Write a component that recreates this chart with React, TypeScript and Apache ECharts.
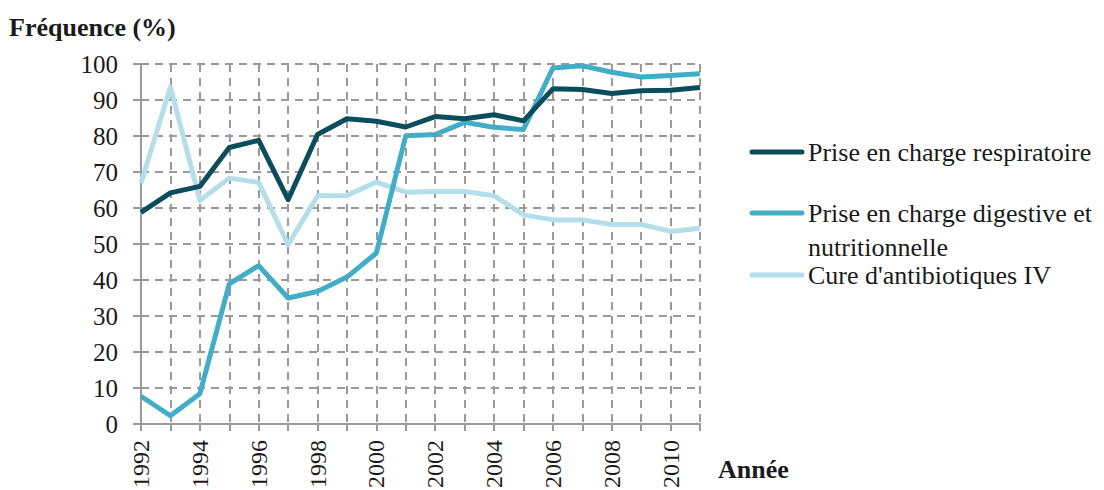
import React, { useEffect, useRef } from "react";
import * as echarts from "echarts";

const years = ["1992","1993","1994","1995","1996","1997","1998","1999","2000","2001","2002","2003","2004","2005","2006","2007","2008","2009","2010","2011"];
const respiratoire = [58.8,64.2,66,76.8,78.8,62.3,80.4,84.8,84.1,82.5,85.4,84.8,85.9,84.2,93.1,92.9,91.8,92.6,92.7,93.5];
const digestive = [7.7,2.3,8.4,38.9,44.0,35.0,36.8,40.8,47.5,80.1,80.4,83.8,82.4,81.8,98.9,99.5,97.7,96.4,96.8,97.3];
const antibiotiques = [66.9,93.6,62.1,68.3,67.1,49.8,63.4,63.5,67.2,64.4,64.6,64.6,63.4,58.1,56.7,56.7,55.4,55.4,53.5,54.4];
const seriesNames = ["Prise en charge respiratoire", "Prise en charge digestive et\nnutritionnelle", "Cure d'antibiotiques IV"];
const colors = ["#0c4d5d", "#41adc6", "#b4dfea"];

const FONT = "Liberation Serif";

export default function App() {
  const ref = useRef<HTMLDivElement>(null);
  useEffect(() => {
    document.body.style.margin = "0";
    const chart = echarts.init(ref.current!, null, { renderer: "svg" });
    const dataSets = [respiratoire, digestive, antibiotiques];
    const legendY = [152, 213, 275];
    const LH = 34;
    const legendGraphics: any[] = [];
    seriesNames.forEach((name, i) => {
      const lines = name.split("\n").length;
      legendGraphics.push({
        type: "line",
        shape: { x1: 752, y1: legendY[i], x2: 802, y2: legendY[i] },
        style: { stroke: colors[i], lineWidth: 5, lineCap: "round" },
      });
      legendGraphics.push({
        type: "text",
        x: 808,
        y: legendY[i] + ((lines - 1) * LH) / 2,
        style: {
          text: name,
          fontFamily: FONT,
          fontSize: 26,
          fill: "#1a1a1a",
          lineHeight: LH,
          verticalAlign: "middle",
          align: "left",
        },
      });
    });
    chart.setOption({
      animation: false,
      textStyle: { fontFamily: FONT },
      grid: { left: 141, right: 404, top: 64, bottom: 66, containLabel: false, outerBoundsMode: "none" },
      xAxis: {
        type: "category",
        data: years,
        boundaryGap: false,
        axisLine: { lineStyle: { color: "#9a9a9a", width: 2 } },
        axisTick: { show: true, interval: 0, length: 7, lineStyle: { color: "#9a9a9a", width: 2 } },
        axisLabel: { interval: 1, rotate: 90, fontSize: 24, color: "#1a1a1a", fontFamily: FONT, margin: 16 },
        splitLine: { show: true, interval: 0, lineStyle: { color: "#9a9a9a", width: 2, type: [8, 6] } },
      },
      yAxis: {
        type: "value",
        min: 0,
        max: 100,
        interval: 10,
        axisLine: { show: true, lineStyle: { color: "#9a9a9a", width: 2 } },
        axisTick: { show: true, length: 8, lineStyle: { color: "#9a9a9a", width: 2 } },
        axisLabel: { fontSize: 25, color: "#1a1a1a", fontFamily: FONT, margin: 23 },
        splitLine: { show: true, lineStyle: { color: "#9a9a9a", width: 2, type: [8, 6] } },
      },
      series: dataSets.map((d, i) => ({
        name: seriesNames[i],
        type: "line",
        data: d,
        showSymbol: false,
        symbol: "none",
        lineStyle: { color: colors[i], width: 5, join: "round" },
        itemStyle: { color: colors[i] },
        z: 3 - i,
      })),
      graphic: [
        {
          type: "text",
          x: 9,
          y: 27,
          style: { text: "Fréquence (%)", fontFamily: FONT, fontWeight: "bold", fontSize: 26, fill: "#1a1a1a", verticalAlign: "middle" },
        },
        {
          type: "text",
          x: 718,
          y: 469,
          style: { text: "Année", fontFamily: FONT, fontWeight: "bold", fontSize: 26, fill: "#1a1a1a", verticalAlign: "middle" },
        },
        ...legendGraphics,
      ],
    });
    return () => chart.dispose();
  }, []);
  return <div ref={ref} style={{ width: 1104, height: 490 }} />;
}
